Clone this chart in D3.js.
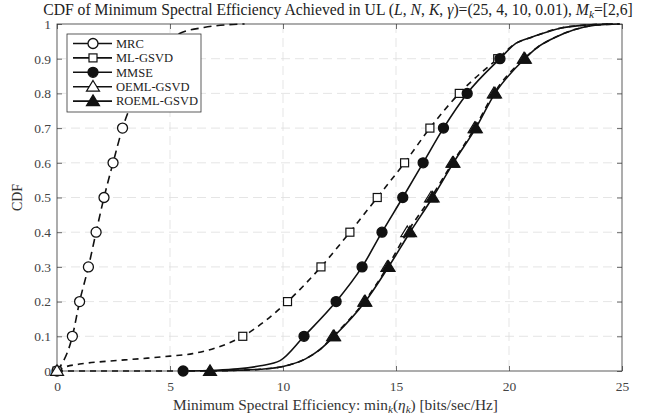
<!DOCTYPE html>
<html><head><meta charset="utf-8">
<script src="https://cdn.jsdelivr.net/npm/d3@7"></script>
<style>
body{margin:0;background:#fff}
</style></head><body>
<svg id="c" width="664" height="419"></svg>
<script>
// ---- data ----
const xTicks = [0, 5, 10, 15, 20, 25];
const yTicks = [0, 0.1, 0.2, 0.3, 0.4, 0.5, 0.6, 0.7, 0.8, 0.9, 1];
const yTickLabels = ["0","0.1","0.2","0.3","0.4","0.5","0.6","0.7","0.8","0.9","1"];
const markerLevels = [0, 0.1, 0.2, 0.3, 0.4, 0.5, 0.6, 0.7, 0.8, 0.9];
const seriesNames = ["MRC", "ML-GSVD", "MMSE", "OEML-GSVD", "ROEML-GSVD"];

const mrc = [[0,0],[0.68,0.1],[1.0,0.2],[1.39,0.3],[1.73,0.4],[2.08,0.5],[2.48,0.6],[2.9,0.7],
  [3.5,0.8],[4.25,0.9],[4.9,0.945],[5.4,0.972],[6.5,0.99],[7.6,0.998],[8.3,1]];
const mlgsvd = [[0,0],[0.3,0.01],[1,0.02],[2,0.027],[3,0.032],[4,0.037],[5,0.043],[6,0.05],[7,0.066],
  [8.22,0.1],[10.2,0.2],[11.68,0.3],[12.96,0.4],[14.17,0.5],[15.38,0.6],[16.5,0.7],[17.8,0.8],[19.5,0.9],
  [20.3,0.944],[21.05,0.963],[22.26,0.988],[23.4,0.997],[24.6,1]];
const mmse = [[5.58,0],[7,0.002],[8,0.006],[9,0.015],[9.87,0.03],[10.93,0.1],[12.35,0.2],[13.5,0.3],
  [14.38,0.4],[15.3,0.5],[16.2,0.6],[17.1,0.7],[18.15,0.8],[19.6,0.9],[20.3,0.944],[21.05,0.963],
  [22.26,0.988],[23.4,0.997],[24.6,1]];
const oemlgsvd = [[0,0],[6.6,0],[8,0.002],[9,0.005],[10,0.013],[11,0.035],[11.6,0.06],[12.22,0.1],[13.6,0.2],
  [14.62,0.3],[15.5,0.4],[16.55,0.5],[17.5,0.6],[18.48,0.7],[19.33,0.8],[20.66,0.9],[21.2,0.93],
  [21.96,0.959],[22.85,0.983],[23.88,0.997],[24.9,1]];
const roemlgsvd = [[6.77,0],[8,0.002],[9,0.005],[10,0.013],[11,0.035],[11.6,0.06],[12.26,0.1],[13.64,0.2],
  [14.67,0.3],[15.62,0.4],[16.62,0.5],[17.54,0.6],[18.53,0.7],[19.38,0.8],[20.7,0.9],[21.2,0.93],
  [21.96,0.959],[22.85,0.983],[23.88,0.997],[24.9,1]];

const seriesData = [mrc, mlgsvd, mmse, oemlgsvd, roemlgsvd];
const seriesStyle = [
  {dash:"8,5", marker:"circle", fill:"#fff"},
  {dash:"6,5", marker:"square", fill:"#fff"},
  {dash:null,  marker:"circle", fill:"#111"},
  {dash:"6,5", marker:"triangle", fill:"#fff"},
  {dash:null,  marker:"triangle", fill:"#111"}
];

// ---- layout ----
const FONT = '"Liberation Serif", "DejaVu Serif", serif';
const svg = d3.select("#c");
const L = 57, R = 622, T = 24, B = 371;
const x = d3.scaleLinear().domain([0,25]).range([L,R]);
const y = d3.scaleLinear().domain([0,1]).range([B,T]);

// grid
const g = svg.append("g");
g.selectAll(".gx").data(xTicks.slice(1,-1)).enter().append("line")
  .attr("x1",d=>x(d)).attr("x2",d=>x(d)).attr("y1",T).attr("y2",B)
  .attr("stroke","#dedede").attr("stroke-width",0.8).attr("stroke-dasharray","9,5");
g.selectAll(".gy").data(yTicks.slice(1,-1)).enter().append("line")
  .attr("x1",L).attr("x2",R).attr("y1",d=>y(d)).attr("y2",d=>y(d))
  .attr("stroke","#dedede").attr("stroke-width",0.8).attr("stroke-dasharray","9,5");

// axes (ticks inward)
const ax = svg.append("g").attr("transform",`translate(0,${B})`)
  .call(d3.axisBottom(x).tickValues(xTicks).tickSizeInner(-5).tickSizeOuter(0).tickPadding(10));
const axT = svg.append("g").attr("transform",`translate(0,${T})`)
  .call(d3.axisTop(x).tickValues(xTicks).tickSizeInner(-5).tickSizeOuter(0).tickFormat(""));
const ay = svg.append("g").attr("transform",`translate(${L},0)`)
  .call(d3.axisLeft(y).tickValues(yTicks).tickSizeInner(-5).tickSizeOuter(0).tickPadding(6)
    .tickFormat((d,i)=>yTickLabels[i]));
const ayR = svg.append("g").attr("transform",`translate(${R},0)`)
  .call(d3.axisRight(y).tickValues(yTicks).tickSizeInner(-5).tickSizeOuter(0).tickFormat(""));
[ax,axT,ay,ayR].forEach(a=>{
  a.attr("font-family",FONT).attr("font-size",13.5);
  a.select(".domain").remove();
  a.selectAll("line").attr("stroke","#333").attr("stroke-width",0.7);
  a.selectAll("text").attr("fill","#444");
});
svg.append("rect").attr("x",L).attr("y",T).attr("width",R-L).attr("height",B-T)
  .attr("fill","none").attr("stroke","#333").attr("stroke-width",0.8);

// lines
const line = d3.line().x(d=>x(d[0])).y(d=>y(d[1])).curve(d3.curveMonotoneX);
const plot = svg.append("g");
function drawMarker(sel, type, cx, cy, fill, s){
  if(type==="circle"){
    sel.append("circle").attr("cx",cx).attr("cy",cy).attr("r",5*s)
      .attr("fill",fill).attr("stroke","#111").attr("stroke-width",1.3);
  } else if(type==="square"){
    sel.append("rect").attr("x",cx-4*s).attr("y",cy-4*s).attr("width",8*s).attr("height",8*s)
      .attr("fill",fill).attr("stroke","#111").attr("stroke-width",1.2);
  } else {
    const h=6.2*s;
    sel.append("path").attr("d",`M${cx},${cy-h}L${cx+h*1.05},${cy+h*0.72}L${cx-h*1.05},${cy+h*0.72}Z`)
      .attr("fill",fill).attr("stroke","#111").attr("stroke-width",1.2);
  }
}
seriesData.forEach((data,i)=>{
  const st = seriesStyle[i];
  plot.append("path").datum(data).attr("d",line).attr("fill","none")
    .attr("stroke","#111").attr("stroke-width",1.6)
    .attr("stroke-dasharray",st.dash);
  const mk = data.filter(d=>markerLevels.some(l=>Math.abs(l-d[1])<1e-9));
  const seen = new Set();
  mk.forEach(d=>{
    if(seen.has(d[1])) return; seen.add(d[1]);
    drawMarker(plot, st.marker, x(d[0]), y(d[1]), st.fill, 1);
  });
});

// legend
const lg = svg.append("g");
lg.append("rect").attr("x",67).attr("y",34).attr("width",134).attr("height",78)
  .attr("fill","#fff").attr("stroke","#333").attr("stroke-width",0.8);
seriesNames.forEach((n,i)=>{
  const yy = 43.5 + i*14.4;
  const st = seriesStyle[i];
  lg.append("line").attr("x1",73).attr("x2",112).attr("y1",yy).attr("y2",yy)
    .attr("stroke","#111").attr("stroke-width",1.6);
  drawMarker(lg, st.marker, 93, yy, st.fill, 1);
  lg.append("text").attr("x",116).attr("y",yy+4.3).attr("font-family",FONT)
    .attr("font-size",12.5).attr("fill","#222").text(n);
});

function fitWidth(sel, base, target){
  const w = sel.node().getBBox().width;
  if (w > 0) sel.attr("font-size", base * target / w);
}

// title
const title = svg.append("text").attr("x",338).attr("y",14.5).attr("text-anchor","middle")
  .attr("font-family",FONT).attr("font-size",15).attr("fill","#222");
title.append("tspan").text("CDF of Minimum Spectral Efficiency Achieved in UL (");
title.append("tspan").attr("font-style","italic").text("L");
title.append("tspan").text(", ");
title.append("tspan").attr("font-style","italic").text("N");
title.append("tspan").text(", ");
title.append("tspan").attr("font-style","italic").text("K");
title.append("tspan").text(", ");
title.append("tspan").attr("font-style","italic").text("γ");
title.append("tspan").text(")=(25, 4, 10, 0.01), ");
title.append("tspan").attr("font-style","italic").text("M");
title.append("tspan").attr("font-style","italic").attr("font-size","0.72em").attr("dy",3).text("k");
title.append("tspan").attr("dy",-3).text("=[2,6]");
fitWidth(title, 15, 590);

// axis labels
const xl = svg.append("text").attr("x",335.5).attr("y",410).attr("text-anchor","middle")
  .attr("font-family",FONT).attr("font-size",15).attr("fill","#333");
xl.append("tspan").text("Minimum Spectral Efficiency: min");
xl.append("tspan").attr("font-style","italic").attr("font-size","0.72em").attr("dy",3).text("k");
xl.append("tspan").attr("dy",-3).text("(");
xl.append("tspan").attr("font-style","italic").text("η");
xl.append("tspan").attr("font-style","italic").attr("font-size","0.72em").attr("dy",3).text("k");
xl.append("tspan").attr("dy",-3).text(") [bits/sec/Hz]");
fitWidth(xl, 15, 325);

svg.append("text").attr("transform",`translate(22,${(T+B)/2}) rotate(-90)`)
  .attr("text-anchor","middle").attr("font-family",FONT).attr("font-size",14)
  .attr("fill","#333").text("CDF");
</script>
</body></html>
